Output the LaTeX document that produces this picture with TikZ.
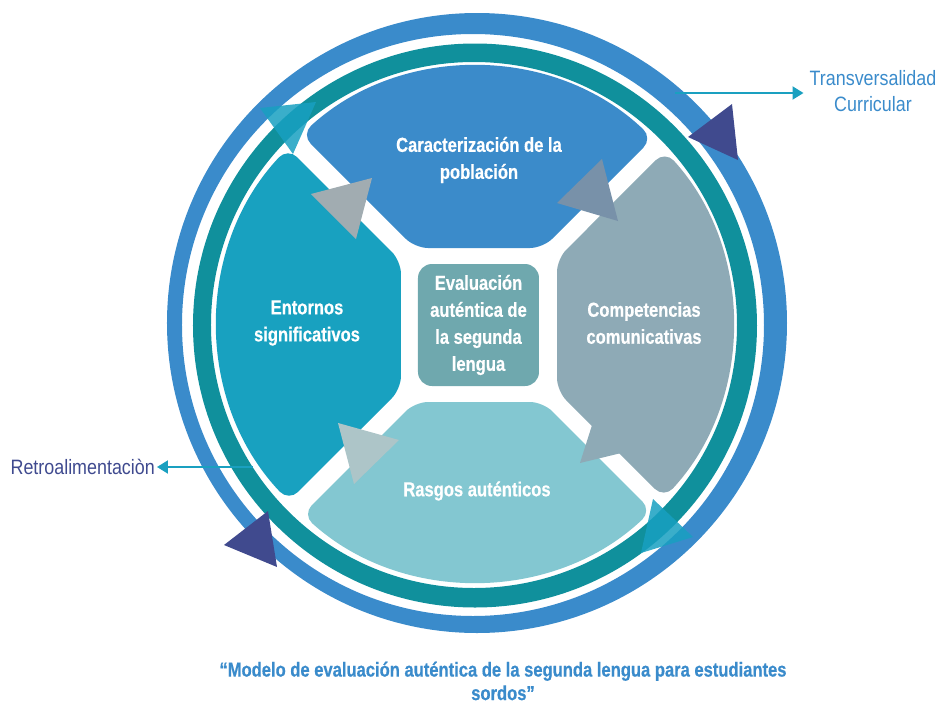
\documentclass[tikz,border=0pt]{standalone}
\usepackage{fontspec}
\setmainfont{Liberation Sans}[FakeStretch=0.82,BoldFeatures={FakeBold=0.5}]
\newfontfamily\labelfont{Liberation Sans}[FakeStretch=0.86]
\usetikzlibrary{arrows.meta}
\definecolor{ringblue}{HTML}{3A8BCB}
\definecolor{ringteal}{HTML}{10909C}
\definecolor{piecetop}{HTML}{3B8BCA}
\definecolor{pieceleft}{HTML}{18A1C0}
\definecolor{pieceright}{HTML}{8EAAB6}
\definecolor{piecebottom}{HTML}{83C7D1}
\definecolor{corebox}{HTML}{6FA8AE}
\definecolor{indigotri}{HTML}{404A8E}
\definecolor{cyantri}{HTML}{18A0C1}
\definecolor{greytri}{HTML}{A1ACB1}
\definecolor{slatetri}{HTML}{7891A9}
\definecolor{paletri}{HTML}{ADC5C8}
\definecolor{linecyan}{HTML}{1AA0C0}
\definecolor{labelindigo}{HTML}{3F4A8F}

\begin{document}
\begin{tikzpicture}[x=1pt,y=1pt,
  piece/.style={rounded corners=13pt},
  piecetext/.style={text=white,font=\bfseries\fontsize{20.2}{27}\selectfont,align=center,inner sep=0pt},
  sidelabel/.style={font=\labelfont\fontsize{20.8}{26}\selectfont,align=center,inner sep=2pt},
  pointer/.style={draw=linecyan,line width=2pt,-{Triangle[length=11pt,width=13pt]}},
]
\useasboundingbox (-479,-380) rectangle (458,325);

% outer rings
\fill[ringblue,even odd rule] (-2,2) circle[radius=310] (-6,0) circle[radius=291];
\fill[ringteal,even odd rule] (-4,-0.5) circle[radius=282] (-5,0) circle[radius=263];

% four sectors of the inner disk
\fill[piecetop,piece] (-64,77) -- (64,77) -- ([shift={(-4,1)}]46.26:257)
  arc[start angle=46.26,end angle=132.48,radius=257] -- cycle;
\fill[pieceright,piece] (78,66) -- ([shift={(-4,1)}]42.32:257)
  arc[start angle=42.32,end angle=-42.64,radius=257] -- (78,-66) -- cycle;
\fill[pieceleft,piece] (-78,-64) -- ([shift={(-4,1)}]223.58:257)
  arc[start angle=223.58,end angle=136.74,radius=257] -- (-78,64) -- cycle;
\fill[piecebottom,piece] (-64,-77) -- ([shift={(-4,1)}]227.84:257)
  arc[start angle=227.84,end angle=313.42,radius=257] -- (64,-77) -- cycle;

% central box
\node[fill=corebox,rounded corners=14pt,minimum width=121pt,minimum height=122pt,
  piecetext] (core) at (-0.5,0) {Evaluación\\auténtica de\\la segunda\\lengua};

% arrowheads between the sectors
\fill[greytri]  (-168,131) -- (-107,147) -- (-123,86) -- cycle;
\fill[slatetri] (78,122) -- (123,166) -- (139,104) -- cycle;
\fill[pieceright] (101,-138) -- (121,-75) -- (163,-123) -- cycle;
\fill[paletri]  (-141,-98) -- (-80,-115) -- (-125,-159) -- cycle;

% arrowheads on the rings
\fill[cyantri,fill opacity=0.85] (-219,217) -- (-163,223) -- (-186,171) -- cycle;
\fill[cyantri,fill opacity=0.85] (174,-174) -- (214,-212) -- (162,-228) -- cycle;
\fill[indigotri] (209,188) -- (253,221) -- (259,165) -- cycle;
\fill[indigotri] (-211,-186) -- (-202,-242) -- (-255,-220) -- cycle;

% sector labels
\node[piecetext] (poblacion) at (0,165) {Caracterización de la\\población};
\node[piecetext] (entornos) at (-172,2) {Entornos\\significativos};
\node[piecetext] (competencias) at (165,2) {Competencias\\comunicativas};
\node[piecetext] (rasgos) at (-2,-166) {Rasgos auténticos};

% side labels with pointers
\node[sidelabel,text=ringblue] (transv) at (394,234) {Transversalidad\\Curricular};
\coordinate (transvfrom) at (196,232);
\draw[pointer] (transvfrom) -- ([xshift=-4pt]transvfrom -| transv.west);

\node[sidelabel,text=labelindigo,anchor=east] (retro) at (-322,-142) {Retroalimentaciòn};
\coordinate (retrofrom) at (-226,-142);
\draw[pointer] (retrofrom) -- (retrofrom -| retro.east);

% caption
\node[piecetext,text=ringblue,font=\bfseries\fontsize{20.2}{23.5}\selectfont] (caption) at (24,-356)
  {“Modelo de evaluación auténtica de la segunda lengua para estudiantes\\sordos”};
\end{tikzpicture}
\end{document}
